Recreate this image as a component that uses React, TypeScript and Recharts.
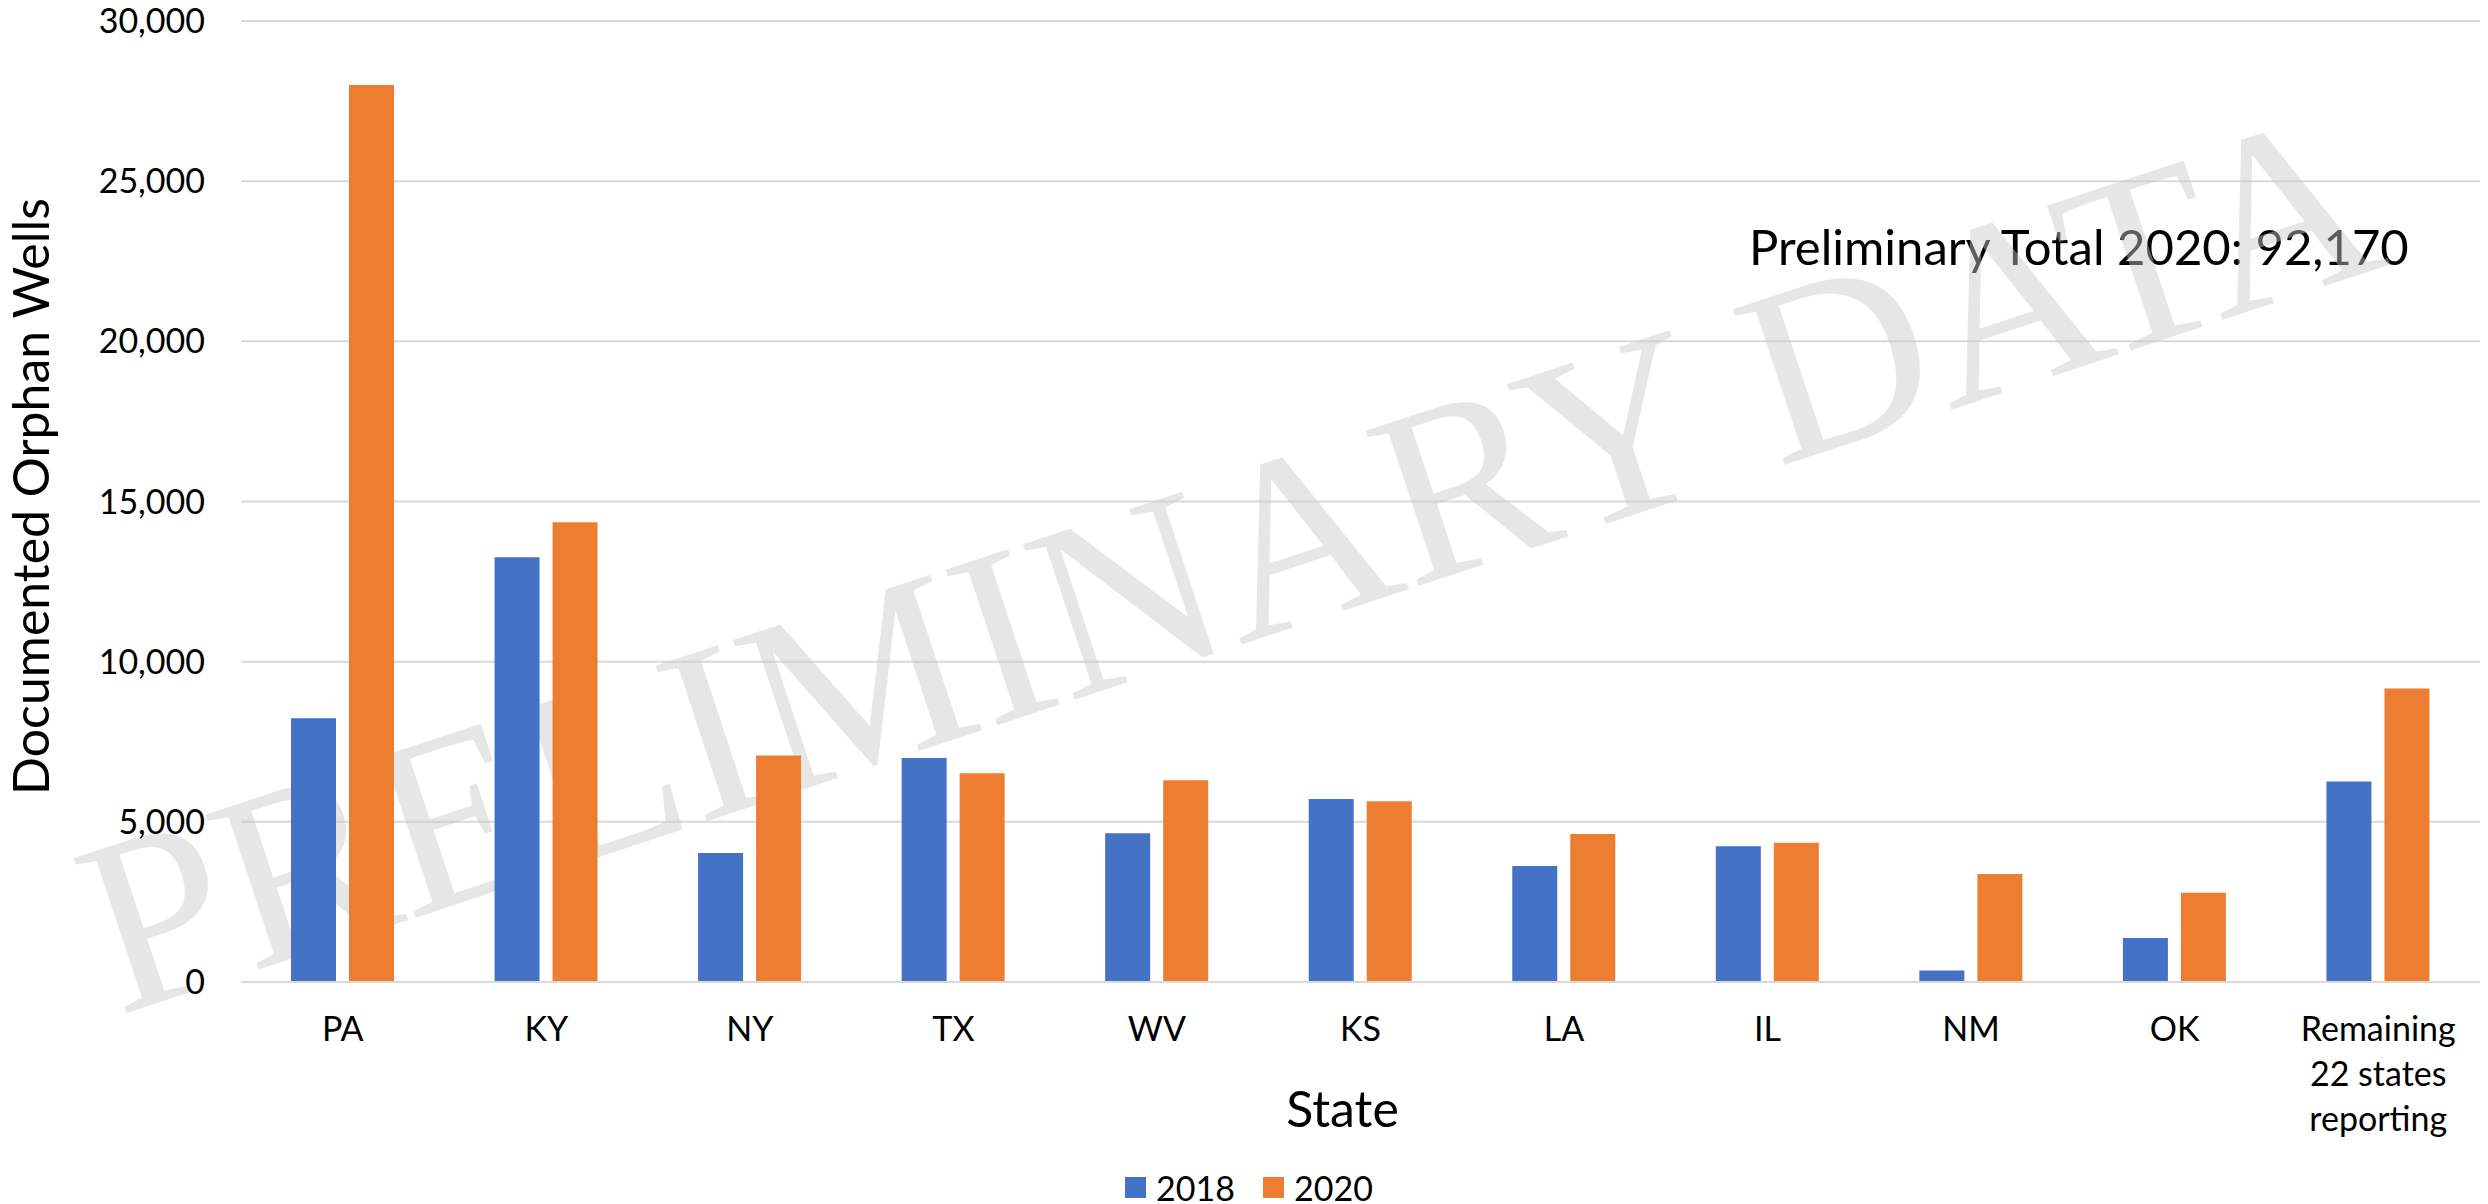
import { Bar, BarChart, CartesianGrid, Customized, Label, Legend, XAxis, YAxis } from "recharts"

const categories = ["PA", "KY", "NY", "TX", "WV", "KS", "LA", "IL", "NM", "OK", "Remaining 22 states reporting"]
const tickLabels = [["PA"], ["KY"], ["NY"], ["TX"], ["WV"], ["KS"], ["LA"], ["IL"], ["NM"], ["OK"], ["Remaining", "22 states", "reporting"]]
const wells2018 = [8230, 13260, 4030, 6990, 4640, 5710, 3620, 4240, 360, 1370, 6260]
const wells2020 = [28000, 14350, 7070, 6520, 6300, 5640, 4620, 4350, 3370, 2790, 9160]
const yTicks = [0, 5000, 10000, 15000, 20000, 25000, 30000]
const seriesNames = ["2018", "2020"]
const seriesColors = ["#4472c4", "#ed7d31"]

const data = categories.map((state, i) => ({
  state,
  y2018: wells2018[i],
  y2020: wells2020[i],
}))

const FONT = "Lato, sans-serif"

function StateTick({ x, y, payload }: any) {
  const lines = tickLabels[categories.indexOf(payload.value)] ?? [payload.value]
  return (
    <text x={x} y={y + 59} textAnchor="middle" fontSize={34} fontFamily={FONT} fill="#000">
      {lines.map((line, i) => (
        <tspan key={line} x={x} dy={i === 0 ? 0 : 45}>
          {line}
        </tspan>
      ))}
    </text>
  )
}

function LegendBox() {
  return (
    <div
      style={{
        display: "flex",
        justifyContent: "center",
        alignItems: "center",
        height: 34,
        paddingLeft: 18,
        fontFamily: FONT,
        fontSize: 34,
        color: "#000",
      }}
    >
      {seriesNames.map((name, i) => (
        <div key={name} style={{ display: "flex", alignItems: "center", marginRight: i === 0 ? 28 : 0 }}>
          <span style={{ width: 21, height: 21, background: seriesColors[i], marginRight: 10 }} />
          <span>{name}</span>
        </div>
      ))}
    </div>
  )
}

// annotation + watermark sit over the bars
function Overlay() {
  return (
    <g>
      <text x={1749} y={265} fontSize={49} fontFamily={FONT} fill="#000">
        Preliminary Total 2020: 92,170
      </text>
      <text
        x={1255}
        y={640}
        textAnchor="middle"
        fontSize={250}
        fontFamily="'Liberation Serif', serif"
        fill="rgb(200,200,200)"
        fillOpacity={0.46}
        transform="rotate(-18.3, 1255, 640)"
      >
        PRELIMINARY DATA
      </text>
    </g>
  )
}

export default function App() {
  return (
    <div style={{ position: "absolute", left: 0, top: 0, width: 2488, height: 1204, background: "#fff" }}>
      <BarChart
        width={2488}
        height={1204}
        data={data}
        margin={{ top: 21, right: 8, bottom: 0, left: 0 }}
        barCategoryGap={50}
        barGap={13}
      >
        <CartesianGrid vertical={false} stroke="#d9d9d9" strokeWidth={2} />
        <XAxis
          dataKey="state"
          height={188}
          tickLine={false}
          tickSize={0}
          tickMargin={0}
          axisLine={{ stroke: "#d9d9d9", strokeWidth: 2 }}
          interval={0}
          tick={<StateTick />}
        >
          <Label
            content={({ viewBox }: any) => (
              <text
                x={viewBox.x + viewBox.width / 2 - 18}
                y={viewBox.y + 145}
                textAnchor="middle"
                fontSize={50}
                fontFamily={FONT}
                fill="#000"
              >
                State
              </text>
            )}
          />
        </XAxis>
        <YAxis
          width={241}
          domain={[0, 30000]}
          ticks={yTicks}
          tickLine={false}
          axisLine={false}
          tickSize={0}
          tickMargin={36}
          tick={{ fontSize: 34, fill: "#000", fontFamily: FONT }}
          tickFormatter={(v) => v.toLocaleString("en-US")}
        >
          <Label
            content={({ viewBox }: any) => {
              const cy = viewBox.y + viewBox.height / 2 - 5
              return (
                <text
                  x={49}
                  y={cy}
                  textAnchor="middle"
                  fontSize={50}
                  fontFamily={FONT}
                  fill="#000"
                  transform={`rotate(-90, 49, ${cy})`}
                >
                  Documented Orphan Wells
                </text>
              )
            }}
          />
        </YAxis>
        <Legend verticalAlign="bottom" height={34} content={<LegendBox />} />
        <Bar dataKey="y2018" name={seriesNames[0]} fill={seriesColors[0]} isAnimationActive={false} />
        <Bar dataKey="y2020" name={seriesNames[1]} fill={seriesColors[1]} isAnimationActive={false} />
        <Customized component={<Overlay />} />
      </BarChart>
    </div>
  )
}
